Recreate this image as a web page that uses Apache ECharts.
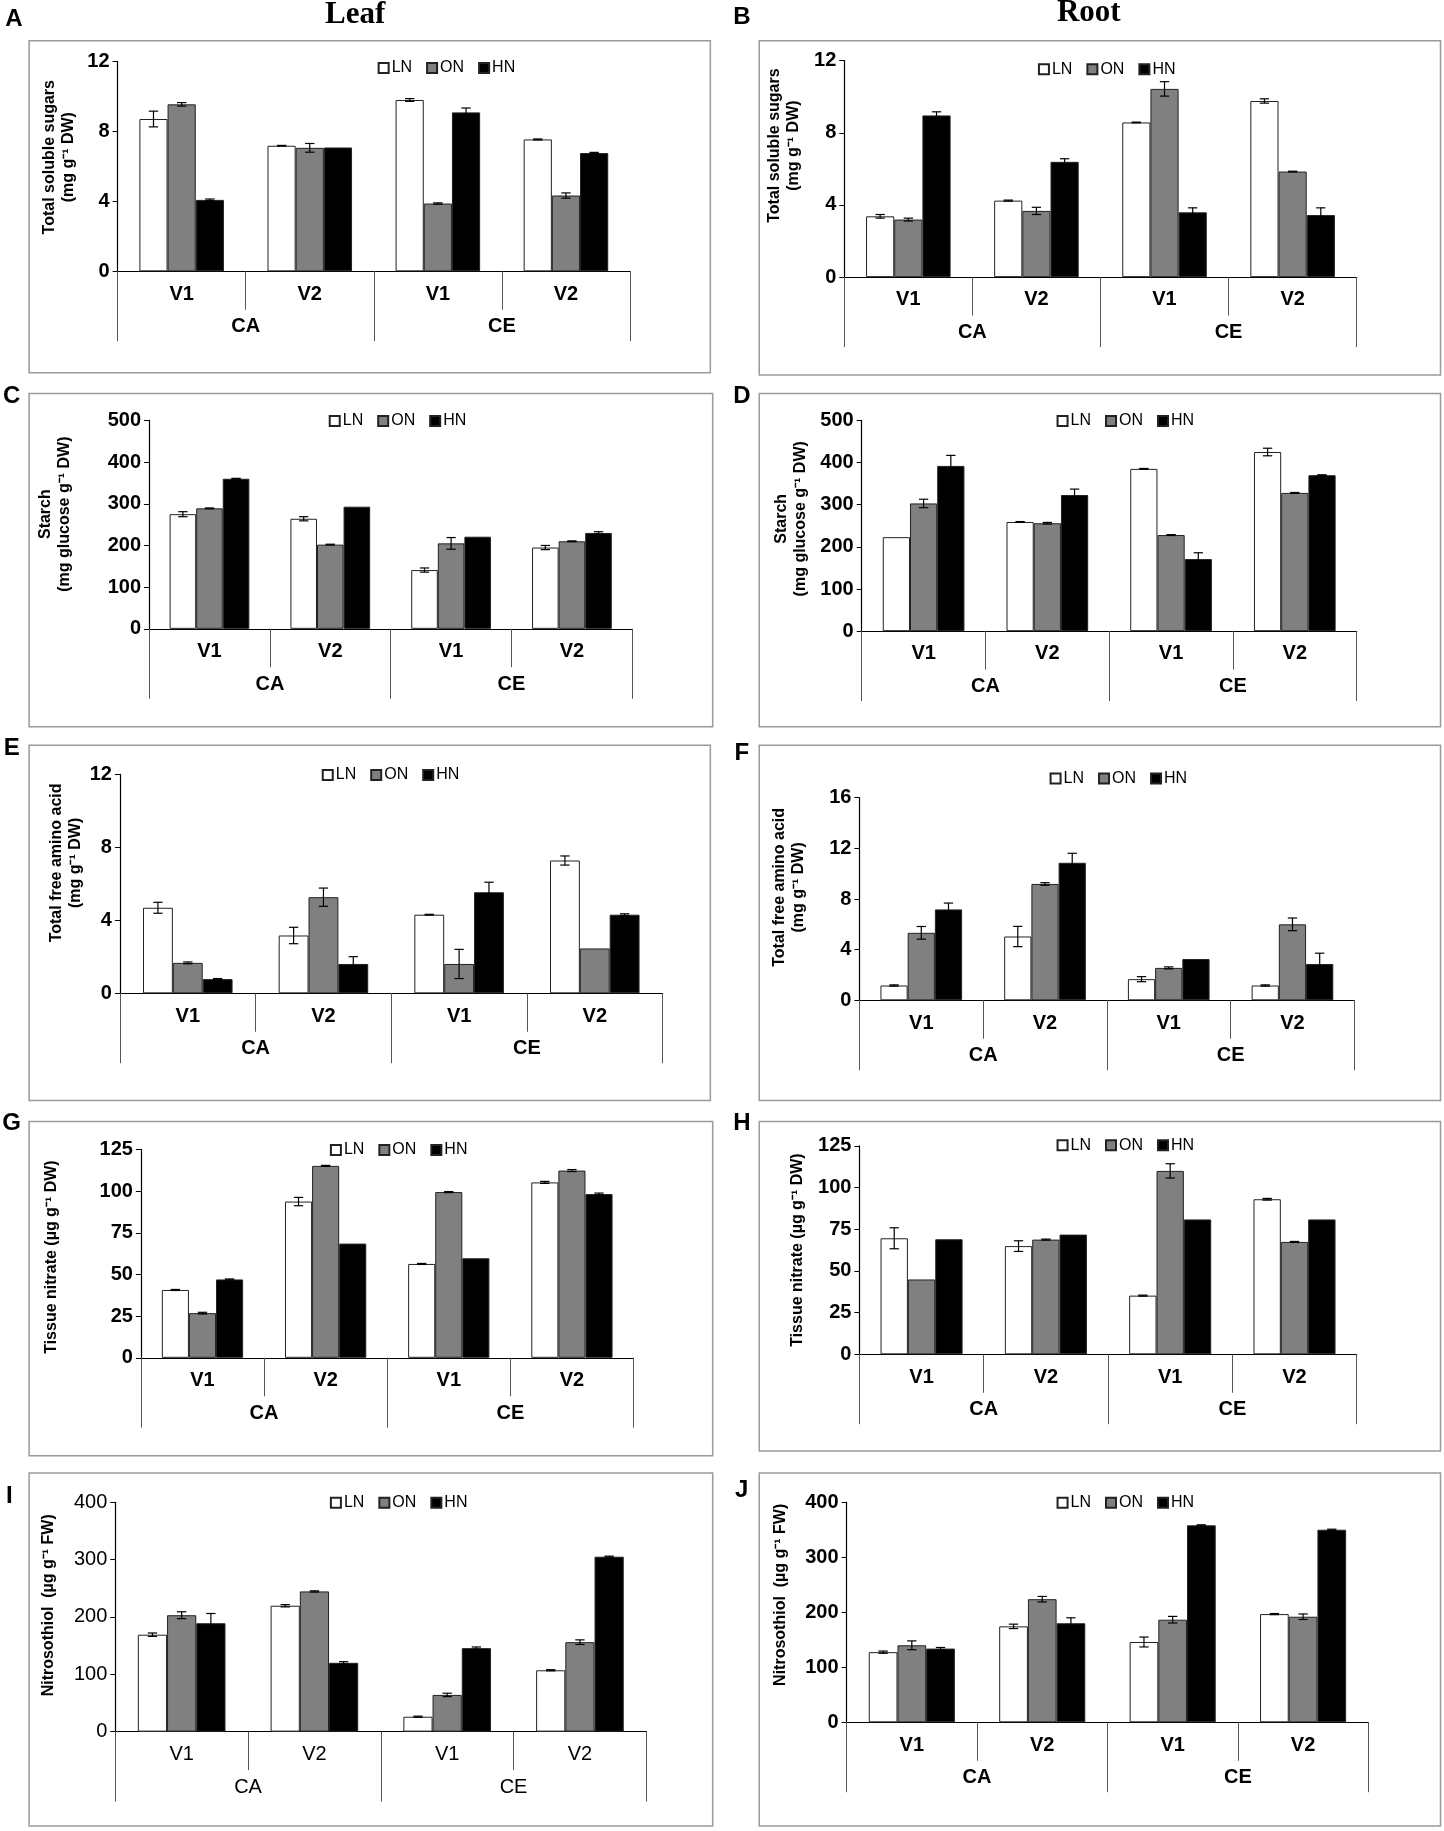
<!DOCTYPE html>
<html>
<head>
<meta charset="utf-8">
<script src="https://cdn.jsdelivr.net/npm/echarts@6/dist/echarts.min.js"></script>
<style>
  html, body { margin: 0; padding: 0; background: #fff; }
  #chart { width: 1444px; height: 1831px; }
</style>
</head>
<body>
<div id="chart"></div>
<script>
// categories
const vLabels = ["V1", "V2", "V1", "V2"];
const groupLabels = ["CA", "CE"];
const seriesNames = ["LN", "ON", "HN"];

// values in order CA-V1, CA-V2, CE-V1, CE-V2
// A: leaf total soluble sugars
const aLN = [8.72, 7.19, 9.81, 7.55], aLNerr = [0.45, 0.02, 0.08, 0.03];
const aON = [9.56, 7.07, 3.88, 4.34], aONerr = [0.1, 0.25, 0.04, 0.15];
const aHN = [4.09, 7.09, 9.10, 6.77], aHNerr = [0.05, 0, 0.25, 0.04];
// B: root total soluble sugars
const bLN = [3.37, 4.24, 8.57, 9.76], bLNerr = [0.1, 0.03, 0.02, 0.12];
const bON = [3.19, 3.67, 10.43, 5.85], bONerr = [0.08, 0.2, 0.4, 0.02];
const bHN = [8.96, 6.39, 3.59, 3.44], bHNerr = [0.2, 0.17, 0.25, 0.4];
// C: leaf starch
const cLN = [275, 264, 141, 195], cLNerr = [6, 5, 5, 5];
const cON = [289, 202, 205, 210], cONerr = [1, 1, 14, 1];
const cHN = [360, 293, 221, 230], cHNerr = [1, 0, 0, 3];
// D: root starch
const dLN = [223, 259, 385, 425], dLNerr = [0, 1, 1, 9];
const dON = [303, 256, 228, 328], dONerr = [10, 2, 1, 1];
const dHN = [392, 323, 171, 370], dHNerr = [25, 14, 15, 1];
// E: leaf total free amino acid
const eLN = [4.69, 3.17, 4.31, 7.28], eLNerr = [0.3, 0.45, 0.02, 0.25];
const eON = [1.67, 5.27, 1.61, 2.46], eONerr = [0.05, 0.5, 0.8, 0];
const eHN = [0.78, 1.61, 5.54, 4.31], eHNerr = [0.03, 0.4, 0.55, 0.05];
// F: root total free amino acid
const fLN = [1.17, 5.04, 1.67, 1.17], fLNerr = [0.05, 0.8, 0.2, 0.05];
const fON = [5.33, 9.19, 2.56, 6.0], fONerr = [0.5, 0.1, 0.08, 0.5];
const fHN = [7.18, 10.86, 3.26, 2.87], fHNerr = [0.5, 0.75, 0, 0.85];
// G: leaf tissue nitrate
const gLN = [40.7, 93.7, 56.3, 105.2], gLNerr = [0.3, 2.5, 0.3, 0.6];
const gON = [26.8, 115.1, 99.4, 112.3], gONerr = [0.5, 0.3, 0.3, 0.6];
const gHN = [47.0, 68.5, 59.7, 98.2], gHNerr = [0.3, 0, 0, 0.6];
// H: root tissue nitrate
const hLN = [69.6, 64.9, 35.2, 93.0], hLNerr = [6.3, 3.2, 0.3, 0.5];
const hON = [44.9, 68.8, 110.0, 67.4], hONerr = [0, 0.3, 4.3, 0.3];
const hHN = [69.0, 71.8, 80.9, 80.9], hHNerr = [0, 0, 0, 0];
// I: leaf nitrosothiol
const iLN = [169, 219.5, 26, 107], iLNerr = [3, 2, 1, 1];
const iON = [203, 244.5, 64, 156], iONerr = [6, 1, 3, 4];
const iHN = [189, 120, 145.6, 305], iHNerr = [17, 2, 2, 1];
// J: root nitrosothiol
const jLN = [127.5, 174.4, 146, 196.7], jLNerr = [2, 4, 9, 1];
const jON = [140, 223.8, 186.5, 191.9], jONerr = [8, 5, 6, 5];
const jHN = [134, 180, 358, 350], jHNerr = [2, 10, 1, 1];

// y axis ticks
const sugarTicks = { max: 12, interval: 4 };
const starchTicks = { max: 500, interval: 100 };
const aminoLeafTicks = { max: 12, interval: 4 };
const aminoRootTicks = { max: 16, interval: 4 };
const nitrateTicks = { max: 125, interval: 25 };
const rsnoTicks = { max: 400, interval: 100 };

const sugarName = "Total soluble sugars\n(mg g⁻¹ DW)";
const starchName = "Starch\n(mg glucose g⁻¹ DW)";
const aminoName = "Total free amino acid\n(mg g⁻¹ DW)";
const nitrateName = "Tissue nitrate (µg g⁻¹ DW)";
const rsnoName = "Nitrosothiol  (µg g⁻¹ FW)";

// layout measured on a 1240-wide copy, scaled up below
const S = 1444 / 1240;
const px = v => v * S;

const panels = [
  { id: "A", vals: [aLN, aON, aHN], errs: [aLNerr, aONerr, aHNerr], ticks: sugarTicks, name: sugarName,
    box: [25, 35, 610, 320], ax: 101, right: 541, top: 53, zero: 233, leg: [320, 55], nameCX: 51, nameUp: 8, letter: [12, 17], bold: true },
  { id: "B", vals: [bLN, bON, bHN], errs: [bLNerr, bONerr, bHNerr], ticks: sugarTicks, name: sugarName,
    box: [652, 35, 1237, 322], ax: 725, right: 1165, top: 52, zero: 238, leg: [887, 56], nameCX: 673, nameUp: 20, letter: [637, 15], bold: true },
  { id: "C", vals: [cLN, cON, cHN], errs: [cLNerr, cONerr, cHNerr], ticks: starchTicks, name: starchName,
    box: [25, 338, 612, 624], ax: 128, right: 543, top: 361, zero: 540, leg: [278, 358], nameCX: 47, nameUp: 9, letter: [10, 340], bold: true },
  { id: "D", vals: [dLN, dON, dHN], errs: [dLNerr, dONerr, dHNerr], ticks: starchTicks, name: starchName,
    box: [652, 338, 1237, 624], ax: 740, right: 1165, top: 361, zero: 542, leg: [903, 358], nameCX: 679, nameUp: 6, letter: [637, 340], bold: true },
  { id: "E", vals: [eLN, eON, eHN], errs: [eLNerr, eONerr, eHNerr], ticks: aminoLeafTicks, name: aminoName,
    box: [25, 640, 610, 945], ax: 103, right: 569, top: 665, zero: 853, leg: [272, 662], nameCX: 57, nameUp: 18, letter: [10, 643], bold: true },
  { id: "F", vals: [fLN, fON, fHN], errs: [fLNerr, fONerr, fHNerr], ticks: aminoRootTicks, name: aminoName,
    box: [652, 640, 1237, 945], ax: 738, right: 1163, top: 685, zero: 859, leg: [897, 665], nameCX: 678, nameUp: 10, letter: [637, 647], bold: true },
  { id: "G", vals: [gLN, gON, gHN], errs: [gLNerr, gONerr, gHNerr], ticks: nitrateTicks, name: nitrateName,
    box: [25, 963, 612, 1250], ax: 121, right: 544, top: 987, zero: 1166, leg: [279, 984], nameCX: 44, nameUp: -3, letter: [10, 965], bold: true },
  { id: "H", vals: [hLN, hON, hHN], errs: [hLNerr, hONerr, hHNerr], ticks: nitrateTicks, name: nitrateName,
    box: [652, 963, 1237, 1246], ax: 738, right: 1165, top: 984, zero: 1163, leg: [903, 980], nameCX: 685, nameUp: 0, letter: [637, 965], bold: true },
  { id: "I", vals: [iLN, iON, iHN], errs: [iLNerr, iONerr, iHNerr], ticks: rsnoTicks, name: rsnoName,
    box: [25, 1265, 612, 1568], ax: 99, right: 555, top: 1290, zero: 1487, leg: [279, 1287], nameCX: 42, nameUp: 10, letter: [8, 1285], bold: false },
  { id: "J", vals: [jLN, jON, jHN], errs: [jLNerr, jONerr, jHNerr], ticks: rsnoTicks, name: rsnoName,
    box: [652, 1265, 1237, 1568], ax: 727, right: 1175, top: 1290, zero: 1479, leg: [903, 1287], nameCX: 670, nameUp: 15, letter: [637, 1280], bold: true },
];

const NARROW = '"Liberation Sans Narrow", "Arial Narrow", "Liberation Sans", Arial, sans-serif';
const SANS = '"Liberation Sans", Arial, sans-serif';
const barColors = ["#ffffff", "#808080", "#000000"];
const CAT_GAP = 0.34;

const grid = [], xAxis = [], yAxis = [], series = [], legend = [], graphic = [];

function errItem(params, api) {
  const e = api.value(2);
  if (!e) return null;
  const c = api.value(0), v = api.value(1), si = api.value(3);
  const band = api.size([1, 0])[0];
  const bw = band * (1 - CAT_GAP) / 3;
  const x = api.coord([c, v])[0] + (si - 1) * bw;
  const yTop = api.coord([c, v + e])[1];
  const yBot = api.coord([c, v - e])[1];
  const cap = px(4);
  const st = { stroke: "#000", lineWidth: 1.2 };
  return {
    type: "group",
    children: [
      { type: "line", shape: { x1: x, y1: yTop, x2: x, y2: yBot }, style: st },
      { type: "line", shape: { x1: x - cap, y1: yTop, x2: x + cap, y2: yTop }, style: st },
      { type: "line", shape: { x1: x - cap, y1: yBot, x2: x + cap, y2: yBot }, style: st },
    ],
  };
}

panels.forEach((p, k) => {
  const weight = p.bold ? "bold" : "normal";
  const nLines = p.name.split("\n").length;
  const lineH = 19;
  // rotated name: left padding lifts it, right padding lowers it
  const shift = 2 * px(p.nameUp);
  const namePad = shift >= 0 ? [0, 0, 0, shift] : [0, -shift, 0, 0];
  grid.push({
    left: px(p.ax), top: px(p.top),
    width: px(p.right - p.ax), height: px(p.zero - p.top),
    containLabel: false, outerBoundsMode: "none",
  });
  xAxis.push({
    type: "category", gridIndex: k, data: vLabels,
    boundaryGap: true,
    axisLine: { show: true, lineStyle: { color: "#000", width: 1.2 } },
    axisTick: { show: true, alignWithLabel: false, interval: 0, length: px(33), lineStyle: { color: "#555", width: 1 } },
    axisLabel: { margin: px(11), color: "#000", fontSize: 20, fontWeight: weight, fontFamily: NARROW },
  });
  xAxis.push({
    type: "category", gridIndex: k, data: groupLabels, position: "bottom",
    boundaryGap: true,
    axisLine: { show: true, lineStyle: { color: "#000", width: 1.2 } },
    axisTick: { show: true, alignWithLabel: false, interval: 0, length: px(60), lineStyle: { color: "#555", width: 1 } },
    axisLabel: { margin: px(39), color: "#000", fontSize: 20, fontWeight: weight, fontFamily: NARROW },
  });
  yAxis.push({
    type: "value", gridIndex: k, min: 0, max: p.ticks.max, interval: p.ticks.interval,
    axisLine: { show: true, lineStyle: { color: "#000", width: 1.2 } },
    axisTick: { show: true, length: 5, lineStyle: { color: "#000" } },
    splitLine: { show: false },
    axisLabel: { margin: 8, color: "#000", fontSize: 20, fontWeight: weight, fontFamily: NARROW },
    name: p.name, nameLocation: "middle", nameRotate: 90,
    nameGap: px(p.ax) - (px(p.nameCX) + nLines * lineH / 2),
    nameTextStyle: { fontSize: 16, fontWeight: "bold", fontFamily: SANS, color: "#000", lineHeight: lineH, align: "center", padding: namePad },
  });
  legend.push({
    data: seriesNames, left: px(p.leg[0]), top: px(p.leg[1]) - 9,
    icon: "rect", itemWidth: 10, itemHeight: 10, itemGap: 14,
    selectedMode: false,
    textStyle: { fontSize: 16, fontFamily: NARROW, color: "#000", padding: [0, 0, 0, -2] },
  });
  const errData = [];
  seriesNames.forEach((nm, si) => {
    series.push({
      type: "bar", name: nm, xAxisIndex: 2 * k, yAxisIndex: k,
      data: p.vals[si],
      barGap: "0%", barCategoryGap: CAT_GAP * 100 + "%",
      itemStyle: { color: barColors[si], borderColor: "#222", borderWidth: 1 },
      emphasis: { disabled: true },
      animation: false,
    });
    p.errs[si].forEach((e, c) => errData.push([c, p.vals[si][c], e, si]));
  });
  series.push({
    type: "custom", xAxisIndex: 2 * k, yAxisIndex: k,
    renderItem: errItem, data: errData, encode: { x: 0, y: 1 },
    z: 5, silent: true, animation: false,
  });
  graphic.push({
    type: "rect", silent: true,
    shape: { x: px(p.box[0]), y: px(p.box[1]), width: px(p.box[2] - p.box[0]), height: px(p.box[3] - p.box[1]) },
    style: { fill: null, stroke: "#9a9a9a", lineWidth: 1.5 },
    z: -1,
  });
  graphic.push({
    type: "text", silent: true, x: px(p.letter[0]), y: px(p.letter[1]),
    style: { text: p.id, font: "bold 24px " + SANS, fill: "#000", align: "center", verticalAlign: "middle" },
  });
});

graphic.push({
  type: "text", silent: true, x: px(305), y: px(13),
  style: { text: "Leaf", font: 'bold 31px "Liberation Serif", "Times New Roman", serif', fill: "#000", align: "center", verticalAlign: "middle" },
});
graphic.push({
  type: "text", silent: true, x: px(935), y: px(11),
  style: { text: "Root", font: 'bold 31px "Liberation Serif", "Times New Roman", serif', fill: "#000", align: "center", verticalAlign: "middle" },
});

const chart = echarts.init(document.getElementById("chart"), null, { renderer: "canvas" });
chart.setOption({
  animation: false,
  backgroundColor: "#fff",
  grid, xAxis, yAxis, legend, series, graphic,
});
</script>
</body>
</html>
